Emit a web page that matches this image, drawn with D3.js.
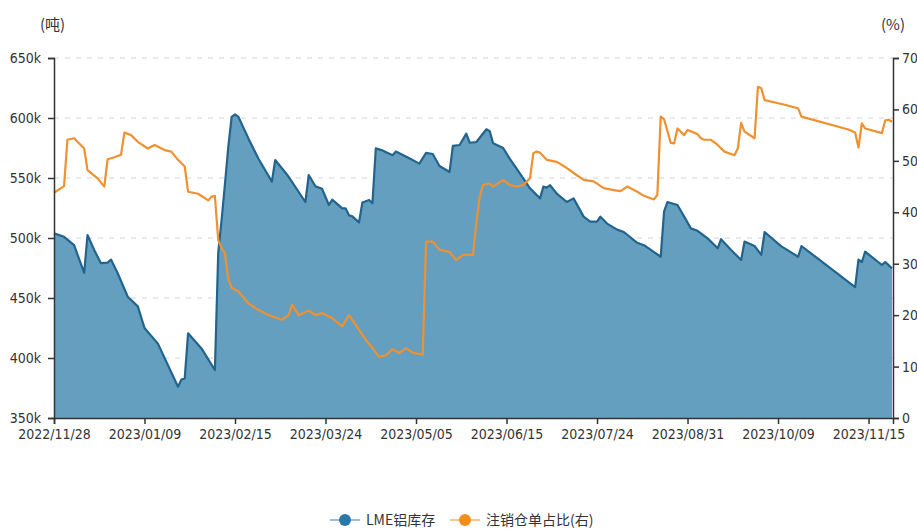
<!DOCTYPE html>
<html>
<head>
  <meta charset="UTF-8">
  <title>LME铝库存</title>
  <style>
    body { margin: 0; background: #fff; }
    svg text { font-family: "DejaVu Sans Condensed", "DejaVu Sans", sans-serif; font-stretch: condensed; fill: #333; }
    svg text.cjk { font-family: "Noto Sans CJK SC", sans-serif; font-stretch: normal; }
  </style>
</head>
<body>
  <div id="chart"></div>
  <script src="https://d3js.org/d3.v7.min.js"></script>
  <script>
    // x = trading day number counted from 2022/11/28
    const tickLabels = ["2022/11/28", "2023/01/09", "2023/02/15", "2023/03/24", "2023/05/05",
                        "2023/06/15", "2023/07/24", "2023/08/31", "2023/10/09", "2023/11/15"];
    const tickStep = 27;
    const lastDay = 250;

    // LME aluminium stock, thousand tonnes  [day, value]
    const stock = [[0,504],[3,501],[6,494],[9,471],[10,502.5],[12,490],[14,479],[16,479.5],[17,482],[19,470.6],
      [22,451],[25,443],[27,425],[31,412],[37,376],[38,382],[39,383],[40,420.6],[44,408],[48,390],
      [49,488],[50,515],[51,545],[52,576],[53,601],[54,603],[55,601],[58,583],[61,566],[65,547],
      [66,565],[70,551],[75,530],[76,552.5],[78,543],[80,541],[82,527.5],[83,532],[86,524.7],[87,524.7],
      [88,519],[89,518],[91,513],[92,529.6],[94,531.7],[95,529],[96,574.7],[98,573],[101,569],[102,572],
      [106,566.4],[109,562],[111,571],[113,570],[115,560],[118,555],[119,576.7],[121,577.5],[123,587],[124,579.4],
      [126,580],[129,590.6],[130,589],[131,579],[134,575],[136,566],[140,549.7],[142,541.4],[145,533],[146,542.8],
      [147,542],[148,544],[150,537],[153,530],[155,533],[158,517.8],[160,513.6],[162,513.6],[163,517.8],[165,512],
      [168,507],[170,505],[174,496],[176,494],[181,484.4],[182,522],[183,530],[186,527.5],[188,517.8],[190,508],
      [192,506],[195,499.7],[198,491.4],[199,499],[202,490],[205,481.7],[206,497],[209,493.3],[211,486],[212,505],
      [217,493],[222,484.4],[223,493.3],[239,459],[240,482],[241,480],[242,488.6],[247,477.5],[248,480],[250,474.7]];

    // cancelled warrants share, %  [day, value]
    const cancelled = [[0,43.8],[3,45.1],[4,54.1],[6,54.4],[7,53.7],[9,52.4],[10,48.2],[13,46.6],[15,45],[16,50.3],
      [18,50.7],[20,51.2],[21,55.5],[23,55],[25,53.7],[28,52.4],[30,53.1],[33,52.1],[35,51.8],[37,50.2],
      [39,48.9],[40,44],[43,43.6],[46,42.3],[47,43],[48,43.2],[49,34.6],[50,33],[51,32],[52,27],
      [53,25.3],[55,24.6],[58,22.3],[61,21],[64,20],[68,19.1],[70,20],[71,22],[73,20],[76,20.9],
      [78,20],[80,20.4],[83,19.4],[86,17.8],[88,20],[90,18.1],[93,15.2],[95,13.6],[97,11.9],[99,12.2],
      [101,13.4],[103,12.6],[105,13.6],[107,12.7],[110,12.3],[111,34.3],[113,34.3],[115,32.7],[118,32.3],[120,30.7],
      [122,31.7],[125,31.7],[126,38],[127,43],[128,45.3],[130,45.6],[131,45],[134,46.3],[136,45.3],[138,45],
      [140,45.3],[142,46.6],[143,51.5],[144,51.8],[145,51.6],[147,50.2],[150,49.8],[153,48.6],[156,47.2],[158,46.3],
      [161,46],[164,44.7],[167,44.3],[169,44.1],[171,45],[174,44],[176,43.2],[179,42.5],[180,43.4],[181,58.6],
      [182,58.1],[184,53.5],[185,53.4],[186,56.3],[188,55],[189,56],[192,55.2],[193,54.4],[194,54.1],[196,54.1],
      [198,53.1],[200,51.8],[203,51.1],[204,52.4],[205,57.4],[206,55.7],[209,54.4],[210,64.4],[211,64.1],[212,61.8],
      [218,60.9],[222,60.2],[223,58.6],[237,56.1],[239,55.5],[240,52.6],[241,57.3],[242,56.3],[247,55.4],[248,57.9],
      [249,58],[250,57.6]];

    const width = 917, height = 530;
    const mLeft = 54, mRight = 893, mTop = 58, mBottom = 418;

    const svg = d3.select("#chart").append("svg")
      .attr("width", width)
      .attr("height", height);

    const x = d3.scaleLinear().domain([0, lastDay + 0.3]).range([mLeft, mRight]);
    const yL = d3.scaleLinear().domain([350, 650]).range([mBottom, mTop]);
    const yR = d3.scaleLinear().domain([0, 70]).range([mBottom, mTop]);

    // grid
    svg.append("g")
      .selectAll("line")
      .data(yL.ticks(6).filter(d => d > 350))
      .enter().append("line")
      .attr("x1", mLeft).attr("x2", mRight)
      .attr("y1", d => yL(d)).attr("y2", d => yL(d))
      .attr("stroke", "#d4d4d4")
      .attr("stroke-dasharray", "5,6");

    // stock area
    const area = d3.area()
      .x(d => x(d[0]))
      .y0(yL(350))
      .y1(d => yL(d[1]));
    svg.append("path")
      .datum(stock)
      .attr("d", area)
      .attr("fill", "#649fbf");
    svg.append("path")
      .datum(stock)
      .attr("d", d3.line().x(d => x(d[0])).y(d => yL(d[1])))
      .attr("fill", "none")
      .attr("stroke", "#22648d")
      .attr("stroke-width", 2.2)
      .attr("stroke-linejoin", "round");

    // cancelled warrants line
    svg.append("path")
      .datum(cancelled)
      .attr("d", d3.line().x(d => x(d[0])).y(d => yR(d[1])))
      .attr("fill", "none")
      .attr("stroke", "#ef9131")
      .attr("stroke-width", 2.2)
      .attr("stroke-linejoin", "round");

    // axes
    const axL = svg.append("g")
      .attr("transform", `translate(${mLeft},0)`)
      .call(d3.axisLeft(yL).ticks(6).tickSize(6).tickPadding(7).tickFormat(d => d + "k"));
    const axR = svg.append("g")
      .attr("transform", `translate(${mRight},0)`)
      .call(d3.axisRight(yR).ticks(7).tickSize(6).tickPadding(3));
    const axB = svg.append("g")
      .attr("transform", `translate(0,${mBottom})`)
      .call(d3.axisBottom(x)
        .tickValues(tickLabels.map((t, i) => i * tickStep))
        .tickFormat((d, i) => tickLabels[i])
        .tickSize(6).tickPadding(5));
    [axL, axR, axB].forEach(a => {
      a.select(".domain").attr("stroke", "#333").attr("stroke-width", 1.5);
      a.selectAll(".tick line").attr("stroke", "#333").attr("stroke-width", 1.5);
      a.selectAll("text").attr("font-size", 14).attr("font-family", null).attr("fill", "#333");
    });

    // units
    svg.append("text").attr("class", "cjk").attr("x", 40).attr("y", 30)
      .attr("font-size", 15).text("(吨)");
    svg.append("text").attr("class", "cjk").attr("x", 881).attr("y", 30)
      .attr("font-size", 15).text("(%)");

    // legend
    const legend = [
      {name: "LME铝库存", color: "#2a78a8", pale: "#9bbfd7", x: 330},
      {name: "注销仓单占比(右)", color: "#f28e1c", pale: "#f6c58e", x: 450}
    ];
    const lg = svg.append("g").selectAll("g").data(legend).enter().append("g")
      .attr("transform", d => `translate(${d.x},520)`);
    lg.append("line").attr("x1", 0).attr("x2", 30)
      .attr("stroke", d => d.pale).attr("stroke-width", 2);
    lg.append("circle").attr("cx", 15).attr("r", 6).attr("fill", d => d.color);
    lg.append("text").attr("class", "cjk").attr("x", 36).attr("y", 5)
      .attr("font-size", 14).attr("fill", "#333").text(d => d.name);
  </script>
</body>
</html>
